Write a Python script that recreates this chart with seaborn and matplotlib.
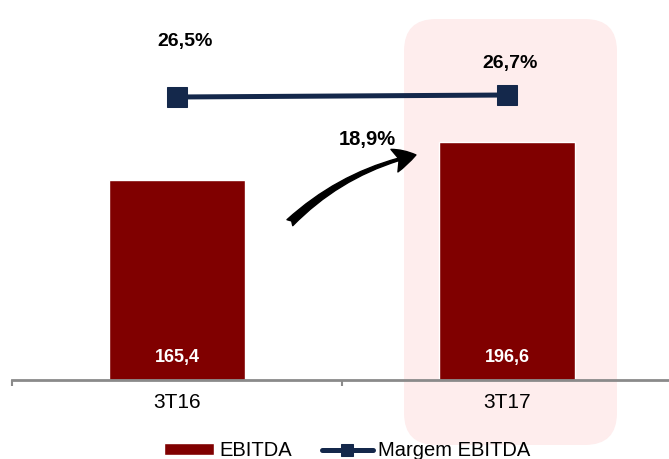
import numpy as np
import pandas as pd
import seaborn as sns
import matplotlib.pyplot as plt
from matplotlib.patches import FancyBboxPatch
from matplotlib.ticker import FixedLocator

sns.set_style("white")
plt.rcParams["font.family"] = ["Liberation Sans", "DejaVu Sans"]
plt.rcParams["text.color"] = "black"
plt.rcParams["xtick.labelcolor"] = "black"

# data
periods = ["3T16", "3T17"]
ebitda = [165.4, 196.6]
margem = [26.5, 26.7]
growth_label = "18,9%"

bar_color = "#800000"
line_color = "#14284b"

df = pd.DataFrame({"periodo": periods, "ebitda": ebitda, "margem": margem})


def br(v, pct=False):
    s = f"{v:.1f}".replace(".", ",")
    return s + "%" if pct else s


fig = plt.figure(figsize=(6.69, 4.59), dpi=100)
ax = fig.add_axes([12 / 669, 79 / 459, 657 / 669, 380 / 459])
ax.patch.set_visible(False)

# pink highlight behind the current quarter
box = FancyBboxPatch((4.04, 0.14), 2.13, 4.26,
                     boxstyle="round,pad=0,rounding_size=0.32",
                     transform=fig.dpi_scale_trans,
                     facecolor="#feeded", edgecolor="none", zorder=-1)
fig.add_artist(box)

# EBITDA bars
sns.barplot(data=df, x="periodo", y="ebitda", color=bar_color, saturation=1,
            width=136 / 330, ax=ax, label="EBITDA")
if ax.get_legend() is not None:
    ax.get_legend().remove()
ax.set_ylim(0, 380 / 1.21)
ax.set_xlim(-0.5, -0.5 + 657 / 330)

for i, v in enumerate(ebitda):
    ax.text(i, 19, br(v), color="white", fontsize=13, fontweight="bold",
            ha="center", va="center")

# growth arrow
ax.annotate("", xy=(0.724, 186), xytext=(0.342, 130),
            arrowprops=dict(arrowstyle="fancy,head_length=0.8,head_width=0.85,tail_width=0.3",
                            connectionstyle="arc3,rad=-0.14", color="black",
                            mutation_scale=20, shrinkA=0, shrinkB=0))
ax.text(0.576, 199, growth_label, fontsize=14.5, fontweight="bold",
        ha="center", va="center")

# axis styling
sns.despine(ax=ax, left=True, top=True, right=True)
ax.spines["bottom"].set_color("#8a8a8a")
ax.spines["bottom"].set_linewidth(2)
ax.set_yticks([])
ax.set_xlabel("")
ax.set_ylabel("")
ax.xaxis.set_minor_locator(FixedLocator([-0.5, 0.5, 1.5]))
ax.tick_params(axis="x", which="minor", bottom=True, length=4.5, width=1.5,
               color="#8a8a8a", direction="out")
ax.tick_params(axis="x", which="major", length=0, pad=9.5, labelsize=15)

# EBITDA margin line on secondary axis
ax2 = ax.twinx()
sns.lineplot(data=df, x="periodo", y="margem", color=line_color, marker="s",
             markersize=14, markeredgecolor=line_color, linewidth=3.6,
             ax=ax2, label="Margem EBITDA", legend=False)
ax2.set_ylim(-1.8, 36.2)
ax2.set_xlim(ax.get_xlim())
ax2.set_yticks([])
ax2.set_xlabel("")
ax2.set_ylabel("")
for s in ax2.spines.values():
    s.set_visible(False)

offsets = [(6, 40), (2, 23)]
for i, (v, off) in enumerate(zip(margem, offsets)):
    ax2.annotate(br(v, pct=True), xy=(i, v), xytext=off, textcoords="offset points",
                 fontsize=14, fontweight="bold", ha="center", va="center")

# legend at bottom
h1, l1 = ax.get_legend_handles_labels()
h2, l2 = ax2.get_legend_handles_labels()
fig.legend(h1 + h2, l1 + l2, loc="center", bbox_to_anchor=(347 / 669, 8 / 459),
           ncol=2, frameon=False, fontsize=14.5, handlelength=2.5, handleheight=0.55,
           handletextpad=0.25, columnspacing=1.5, borderpad=0, markerscale=0.6)

fig.savefig("out.png", dpi=100)
